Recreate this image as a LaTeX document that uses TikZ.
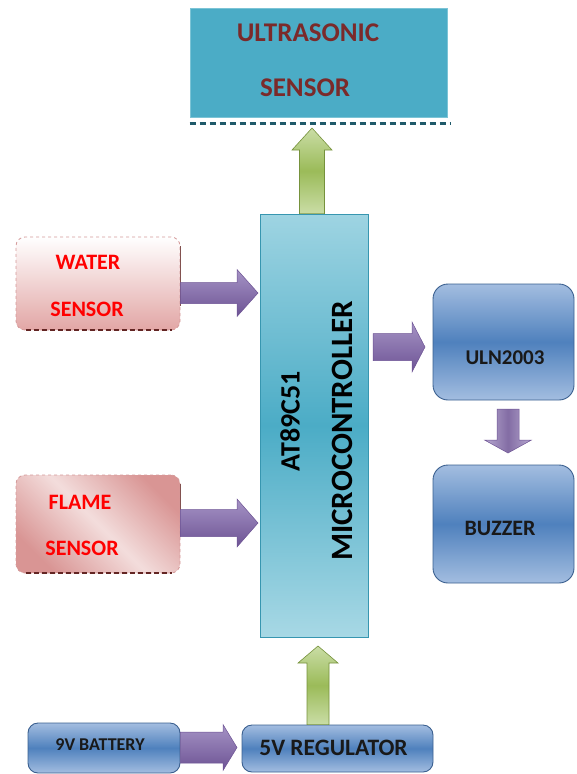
\documentclass[tikz,border=0pt]{standalone}
\usepackage{fontspec}
\setmainfont{Carlito}
\usetikzlibrary{calc}
\definecolor{ultraC}{HTML}{4BACC6}
\definecolor{ultraB}{HTML}{7CC4D6}
\definecolor{dotC}{HTML}{1F5A6A}
\definecolor{microL}{HTML}{9ED4E2}
\definecolor{microM}{HTML}{4BACC6}
\definecolor{microB}{HTML}{3796B0}
\definecolor{blueL}{HTML}{A3BDE0}
\definecolor{blueM}{HTML}{4F81BD}
\definecolor{blueD}{HTML}{3A5F8F}
\definecolor{pinkL}{HTML}{E2A6A5}
\definecolor{pinkF}{HTML}{D99594}
\definecolor{pinkM}{HTML}{F3DDDC}
\definecolor{pinkB}{HTML}{D49A9A}
\definecolor{brownD}{HTML}{632523}
\definecolor{purL}{HTML}{A593C5}
\definecolor{purD}{HTML}{6D5394}
\definecolor{purE}{HTML}{3F3160}
\definecolor{grnL}{HTML}{CADDA6}
\definecolor{grnM}{HTML}{9BBB59}
\definecolor{grnD}{HTML}{76923C}
\definecolor{ultraT}{HTML}{7B2A2A}
\newcommand\rblock[6]{\path[#6] let \p1=(#1), \p2=(#2) in
 (\x1,\y1+#3) -- (\x2-#5,\y1+#3) -- (\x2-#5,\y1+#4) -- (\x2,\y1) -- (\x2-#5,\y1-#4) -- (\x2-#5,\y1-#3) -- (\x1,\y1-#3) -- cycle;}
\newcommand\dblock[6]{\path[#6] let \p1=(#1), \p2=(#2) in
 (\x1-#3,\y1) -- (\x1-#3,\y2+#5) -- (\x1-#4,\y2+#5) -- (\x1,\y2) -- (\x1+#4,\y2+#5) -- (\x1+#3,\y2+#5) -- (\x1+#3,\y1) -- cycle;}
\newcommand\ublock[6]{\path[#6] let \p1=(#1), \p2=(#2) in
 (\x1-#3,\y1) -- (\x1-#3,\y2-#5) -- (\x1-#4,\y2-#5) -- (\x1,\y2) -- (\x1+#4,\y2-#5) -- (\x1+#3,\y2-#5) -- (\x1+#3,\y1) -- cycle;}
\tikzset{
 bluebox/.style={rounded corners=12pt, draw=blueD, line width=0.9pt, top color=blueL, bottom color=blueL, middle color=blueM},
 pinkbox/.style={rounded corners=9pt, draw=pinkB, dashed, line width=0.8pt},
 lbl/.style={inner sep=0pt, font=\bfseries\fontsize{#1}{#1}\selectfont},
 purarrow/.style={top color=purL, bottom color=purD, draw=purD, line width=0.5pt},
 purdown/.style={left color=purL!80, right color=purL!80, middle color=purD!85, draw=purD, line width=0.5pt},
 grnarrow/.style={top color=grnL, bottom color=grnL, middle color=grnM, draw=grnD, line width=0.6pt},
}
\begin{document}
\begin{tikzpicture}[x=1pt,y=-1pt]
\useasboundingbox (0,0) rectangle (576,774);
% ultrasonic sensor
\node[fill=ultraC, draw=ultraB, line width=0.6pt, minimum width=257pt, minimum height=109pt, inner sep=0pt] (ultra) at (318.5,62.5) {};
\draw[dotC, line width=3.5pt, dash pattern=on 6pt off 4pt] (ultra.south west) ++(0,6) coordinate (dl) -- ([xshift=3pt]dl -| ultra.south east);
\node[lbl=27, text=ultraT] (ultraT1) at (308,33) {ULTRASONIC};
\node[lbl=27, text=ultraT] (ultraT2) at (305,88) {SENSOR};
% microcontroller
\node[top color=microL, bottom color=microL!90, middle color=microM, draw=microB, line width=0.8pt, minimum width=108pt, minimum height=423pt, inner sep=0pt] (micro) at (314,425.5) {};
\node[lbl=28, rotate=90] (microT1) at (290,421) {AT89C51};
\node[lbl=31, rotate=90] (microT2) at (342,431) {MICROCONTROLLER};
% water sensor
\node[pinkbox, top color=white, bottom color=pinkL, minimum width=164pt, minimum height=93pt, inner sep=0pt] (water) at (98,283.5) {};
\draw[brownD, line width=2pt, dash pattern=on 5pt off 3pt] ([xshift=10pt]water.south west) -- ([xshift=-8pt]water.south east);
\draw[brownD!80, line width=1.2pt] ([yshift=-22pt]water.east) -- ([yshift=38pt]water.east);
\node[lbl=22, text=red] (waterT1) at (88,262) {WATER};
\node[lbl=22, text=red] (waterT2) at (87,309) {SENSOR};
% flame sensor
\node[pinkbox, top color=pinkF, bottom color=pinkF, middle color=pinkM, shading angle=-45, minimum width=164pt, minimum height=98pt, inner sep=0pt] (flame) at (98,524) {};
\draw[brownD, line width=2pt, dash pattern=on 5pt off 3pt] ([xshift=10pt]flame.south west) -- ([xshift=-8pt]flame.south east);
\draw[brownD!80, line width=1.2pt] ([yshift=-10pt]flame.east) -- ([yshift=40pt]flame.east);
\node[lbl=22, text=red] (flameT1) at (80,502) {FLAME};
\node[lbl=22, text=red] (flameT2) at (82,548) {SENSOR};
% ULN2003 and buzzer
\node[bluebox, rounded corners=15pt, minimum width=141pt, minimum height=116pt, inner sep=0pt] (uln) at (503.5,342) {};
\node[lbl=21, text=black!90] (ulnT) at (505,358) {ULN2003};
\node[bluebox, rounded corners=15pt, minimum width=141pt, minimum height=118pt, inner sep=0pt] (buzzer) at (503.5,524) {};
\node[lbl=22, text=black!90] (buzzerT) at (500,528) {BUZZER};
% battery and regulator
\node[bluebox, rounded corners=10pt, minimum width=152pt, minimum height=50pt, inner sep=0pt] (battery) at (104,748) {};
\node[lbl=18, text=black!90] (batteryT) at (100,745) {9V BATTERY};
\node[bluebox, rounded corners=10pt, minimum width=191pt, minimum height=47pt, inner sep=0pt] (regulator) at (337.5,748.5) {};
\node[lbl=23.5, text=black!90] (regulatorT) at (333.5,748) {5V REGULATOR};
% arrow coordinates
\coordinate (wa1) at (water.east |- 0,293);
\coordinate (wa2) at (258,293);
\coordinate (fa1) at (flame.east |- 0,523);
\coordinate (fa2) at (258,523);
\coordinate (ma1) at (373,347);
\coordinate (ma2) at (425,347);
\coordinate (ua1) at (508,409);
\coordinate (ua2) at (508,453);
\coordinate (ba1) at (battery.east |- 0,747.5);
\coordinate (ba2) at (237,747.5);
\coordinate (ga1) at (micro.north -| 312,0);
\coordinate (ga2) at (312,128);
\coordinate (gb1) at (regulator.north -| 318,0);
\coordinate (gb2) at (318,646);
% arrows
\rblock{wa1}{wa2}{10.5pt}{23.5pt}{21pt}{purarrow}
\rblock{fa1}{fa2}{13.5pt}{24pt}{21pt}{purarrow}
\rblock{ma1}{ma2}{13.5pt}{25pt}{13pt}{purarrow}
\dblock{ua1}{ua2}{11pt}{23.5pt}{13pt}{purdown}
\rblock{ba1}{ba2}{15.5pt}{23pt}{14pt}{purarrow}
\ublock{ga1}{ga2}{12.5pt}{20pt}{22pt}{grnarrow}
\ublock{gb1}{gb2}{11pt}{20pt}{17pt}{grnarrow}
\end{tikzpicture}
\end{document}
